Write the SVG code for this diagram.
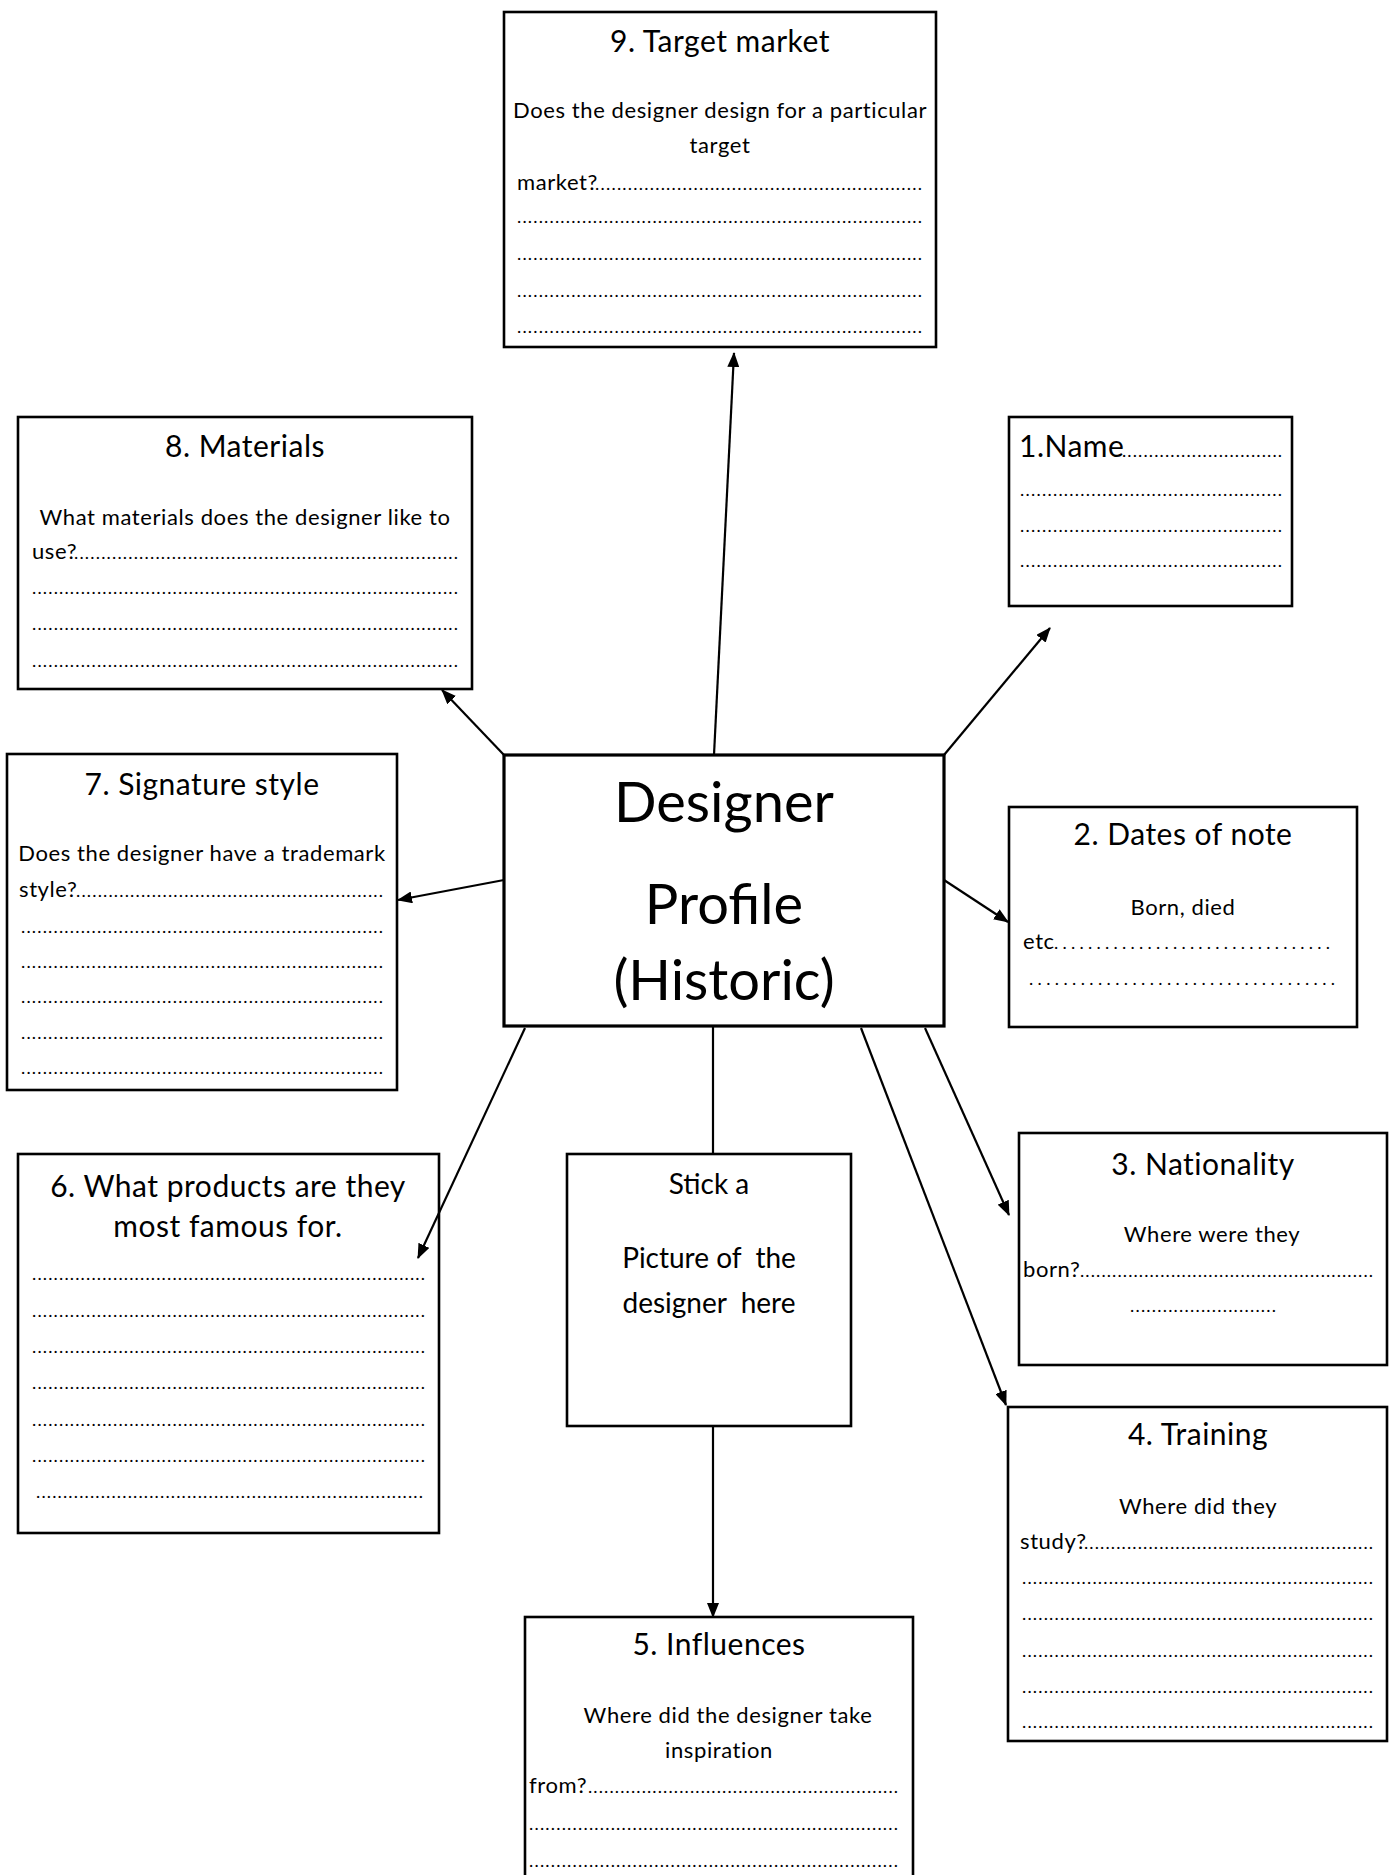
<svg xmlns="http://www.w3.org/2000/svg" width="1395" height="1875" viewBox="0 0 1395 1875">
<style>
.box{fill:#fff;stroke:#000;stroke-width:2.6}
.main{fill:#fff;stroke:#000;stroke-width:3.2}
text{font-family:Lato,"Open Sans","Liberation Sans",sans-serif;fill:#000}
.t{font-size:30px;text-anchor:middle;letter-spacing:0.5px}
.b{font-size:22px;letter-spacing:0.6px}
.c{text-anchor:middle}
.d{font-size:18px}
.big{font-size:56px;text-anchor:middle}
.pic{font-size:28px;text-anchor:middle}
.conn line{stroke:#000;stroke-width:2.2}
.conn .a{marker-end:url(#ah)}
</style>
<defs>
<marker id="ah" markerUnits="userSpaceOnUse" markerWidth="15" markerHeight="12" refX="14" refY="6" orient="auto">
<path d="M0,0 L15,6 L0,12 z" fill="#000"/>
</marker>
</defs>
<rect width="1395" height="1875" fill="#fff"/>

<g id="node-9">
<rect class="box" x="504" y="12" width="432" height="335"/>
<text class="t" x="720" y="52">9. Target market</text>
<text class="b c" x="720" y="118">Does the designer design for a particular</text>
<text class="b c" x="720" y="153">target</text>
<text class="b" x="517" y="190">market?</text>
<text class="d" x="595" y="190" textLength="327" lengthAdjust="spacing">............................................................</text>
<text class="d" x="517" y="223" textLength="405" lengthAdjust="spacing">...........................................................................</text>
<text class="d" x="517" y="260" textLength="405" lengthAdjust="spacing">...........................................................................</text>
<text class="d" x="517" y="297" textLength="405" lengthAdjust="spacing">...........................................................................</text>
<text class="d" x="517" y="333" textLength="405" lengthAdjust="spacing">...........................................................................</text>
</g>

<g id="node-8">
<rect class="box" x="18" y="417" width="454" height="272"/>
<text class="t" x="245" y="457">8. Materials</text>
<text class="b c" x="245" y="525">What materials does the designer like to</text>
<text class="b" x="32" y="559">use?</text>
<text class="d" x="74" y="559" textLength="384" lengthAdjust="spacing">.......................................................................</text>
<text class="d" x="32" y="594" textLength="426" lengthAdjust="spacing">...............................................................................</text>
<text class="d" x="32" y="630" textLength="426" lengthAdjust="spacing">...............................................................................</text>
<text class="d" x="32" y="667" textLength="426" lengthAdjust="spacing">...............................................................................</text>
</g>

<g id="node-1">
<rect class="box" x="1009" y="417" width="283" height="189"/>
<text class="t" x="1019" y="457" style="text-anchor:start">1.Name</text>
<text class="d" x="1122" y="457" textLength="160" lengthAdjust="spacing">..............................</text>
<text class="d" x="1020" y="496" textLength="262" lengthAdjust="spacing">................................................</text>
<text class="d" x="1020" y="532" textLength="262" lengthAdjust="spacing">................................................</text>
<text class="d" x="1020" y="567" textLength="262" lengthAdjust="spacing">................................................</text>
</g>

<g id="node-7">
<rect class="box" x="7" y="754" width="390" height="336"/>
<text class="t" x="202" y="795">7. Signature style</text>
<text class="b c" x="202" y="861">Does the designer have a trademark</text>
<text class="b" x="19" y="897">style?</text>
<text class="d" x="76" y="897" textLength="307" lengthAdjust="spacing">.........................................................</text>
<text class="d" x="21" y="933" textLength="362" lengthAdjust="spacing">...................................................................</text>
<text class="d" x="21" y="968" textLength="362" lengthAdjust="spacing">...................................................................</text>
<text class="d" x="21" y="1003" textLength="362" lengthAdjust="spacing">...................................................................</text>
<text class="d" x="21" y="1039" textLength="362" lengthAdjust="spacing">...................................................................</text>
<text class="d" x="21" y="1074" textLength="362" lengthAdjust="spacing">...................................................................</text>
</g>

<g id="node-center">
<rect class="main" x="504" y="755" width="440" height="271"/>
<text class="big" x="724" y="822">Designer</text>
<text class="big" x="724" y="924">Profile</text>
<text class="big" x="724" y="1000">(Historic)</text>
</g>

<g id="node-2">
<rect class="box" x="1009" y="807" width="348" height="220"/>
<text class="t" x="1183" y="845">2. Dates of note</text>
<text class="b c" x="1183" y="915">Born, died</text>
<text class="b" x="1023" y="949">etc</text>
<text class="d" x="1054" y="949" textLength="276" lengthAdjust="spacing">.................................</text>
<text class="d" x="1029" y="985" textLength="306" lengthAdjust="spacing">....................................</text>
</g>

<g id="node-6">
<rect class="box" x="18" y="1154" width="421" height="379"/>
<text class="t" x="228" y="1197">6. What products are they</text>
<text class="t" x="228" y="1237">most famous for.</text>
<text class="d" x="32" y="1280" textLength="393" lengthAdjust="spacing">.........................................................................</text>
<text class="d" x="32" y="1317" textLength="393" lengthAdjust="spacing">.........................................................................</text>
<text class="d" x="32" y="1353" textLength="393" lengthAdjust="spacing">.........................................................................</text>
<text class="d" x="32" y="1389" textLength="393" lengthAdjust="spacing">.........................................................................</text>
<text class="d" x="32" y="1426" textLength="393" lengthAdjust="spacing">.........................................................................</text>
<text class="d" x="32" y="1462" textLength="393" lengthAdjust="spacing">.........................................................................</text>
<text class="d" x="36" y="1498" textLength="387" lengthAdjust="spacing">........................................................................</text>
</g>

<g id="node-picture">
<rect class="box" x="567" y="1154" width="284" height="272"/>
<text class="pic" x="709" y="1194">Stick a</text>
<text class="pic" x="709" y="1268" xml:space="preserve">Picture of  the</text>
<text class="pic" x="709" y="1313" xml:space="preserve">designer  here</text>
</g>

<g id="node-3">
<rect class="box" x="1019" y="1133" width="368" height="232"/>
<text class="t" x="1203" y="1175">3. Nationality</text>
<text class="b c" x="1212" y="1242">Where were they</text>
<text class="b" x="1023" y="1277">born?</text>
<text class="d" x="1080" y="1277" textLength="293" lengthAdjust="spacing">.......................................................</text>
<text class="d" x="1130" y="1312" textLength="146" lengthAdjust="spacing">...........................</text>
</g>

<g id="node-4">
<rect class="box" x="1008" y="1407" width="379" height="334"/>
<text class="t" x="1198" y="1445">4. Training</text>
<text class="b c" x="1198" y="1514">Where did they</text>
<text class="b" x="1020" y="1549">study?</text>
<text class="d" x="1084" y="1549" textLength="289" lengthAdjust="spacing">......................................................</text>
<text class="d" x="1022" y="1584" textLength="351" lengthAdjust="spacing">.................................................................</text>
<text class="d" x="1022" y="1620" textLength="351" lengthAdjust="spacing">.................................................................</text>
<text class="d" x="1022" y="1657" textLength="351" lengthAdjust="spacing">.................................................................</text>
<text class="d" x="1022" y="1693" textLength="351" lengthAdjust="spacing">.................................................................</text>
<text class="d" x="1022" y="1728" textLength="351" lengthAdjust="spacing">.................................................................</text>
</g>

<g id="node-5">
<rect class="box" x="525" y="1617" width="388" height="280"/>
<text class="t" x="719" y="1655">5. Influences</text>
<text class="b c" x="728" y="1723">Where did the designer take</text>
<text class="b c" x="719" y="1758">inspiration</text>
<text class="b" x="529" y="1793">from?</text>
<text class="d" x="588" y="1793" textLength="310" lengthAdjust="spacing">..........................................................</text>
<text class="d" x="529" y="1830" textLength="369" lengthAdjust="spacing">....................................................................</text>
<text class="d" x="529" y="1867" textLength="369" lengthAdjust="spacing">....................................................................</text>
</g>

<g class="conn">
<line class="a" x1="714" y1="755" x2="734" y2="353"/>
<line class="a" x1="504" y1="755" x2="442" y2="690"/>
<line class="a" x1="944" y1="755" x2="1050" y2="628"/>
<line class="a" x1="504" y1="880" x2="398" y2="900"/>
<line class="a" x1="944" y1="880" x2="1008" y2="922"/>
<line class="a" x1="525" y1="1028" x2="418" y2="1258"/>
<line x1="713" y1="1026" x2="713" y2="1154"/>
<line class="a" x1="861" y1="1028" x2="1006" y2="1405"/>
<line class="a" x1="925" y1="1028" x2="1009" y2="1215"/>
<line class="a" x1="713" y1="1426" x2="713" y2="1617"/>
</g>
</svg>
